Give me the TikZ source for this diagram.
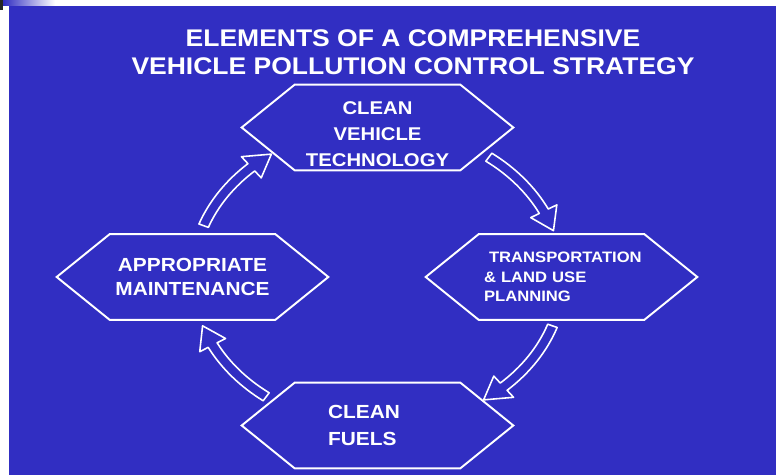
\documentclass[tikz,border=0pt]{standalone}
\usepackage{fontspec}
\setmainfont{Liberation Sans}[FakeStretch=1.1]
\definecolor{slideblue}{RGB}{49,46,194}

\begin{document}
\begin{tikzpicture}[x=0.02cm,y=0.02cm]
    \useasboundingbox (0,0) rectangle (776,475);
    \fill[white] (0,0) rectangle (776,475);
    \fill[slideblue] (9,0) rectangle (776,469);
    \shade[left color=slideblue,right color=white] (3,469) rectangle (55,475);
    \fill[black!85] (0,465) rectangle (3,475);

    \node[text=white,inner sep=0pt,anchor=north,align=center,font=\bfseries\fontsize{13.7}{16.2}\selectfont] (title) at (413,446)
      {ELEMENTS OF A COMPREHENSIVE\\VEHICLE POLLUTION CONTROL STRATEGY};

    \coordinate (hub) at (377.5,198);

    \begin{scope}[minimum width=5.42cm,minimum height=1.7cm,inner sep=0pt]
      \tikzstyle{every node}=[text=white]
      \node[align=center,font=\bfseries\fontsize{10.5}{14.8}\selectfont] (tech)  at (377.5,347.5) {CLEAN\rule{0pt}{14.4pt}\\VEHICLE\\TECHNOLOGY};
      \node[align=left,text width=3.1cm,font=\bfseries\fontsize{8.6}{11.1}\selectfont] (plan) at (561.5,198) {\mbox{\ TRANSPORTATION}\\\& LAND USE\\PLANNING};
      \node[align=left,text width=1.98cm,font=\bfseries\fontsize{10.8}{15.4}\selectfont] (fuels) at (377.5,49.5) {CLEAN\\FUELS};
      \node[align=center,font=\bfseries\fontsize{10.8}{14.2}\selectfont] (maint) at (192.5,198) {APPROPRIATE\\MAINTENANCE};
    \end{scope}

    % hexagon outlines
    \foreach \n in {tech,plan,fuels,maint}
      \draw[white,line width=1.1pt] (\n.west) -- ([xshift=1.06cm]\n.north west) -- ([xshift=-1.06cm]\n.north east)
        -- (\n.east) -- ([xshift=-1.06cm]\n.south east) -- ([xshift=1.06cm]\n.south west) -- cycle;

    % hollow arrows round the hub
    \foreach \ta/\tb/\tc in {53/26/18,-19/-47/-55,-127/-153/-161,160/133/125}
      \draw[white,line width=0.9pt,fill=slideblue,line join=round,shift={(hub)}]
        (\ta:190 and 155) arc[start angle=\ta,end angle=\tb,x radius=190,y radius=155]
        -- (\tb:199.5 and 164.5) -- (\tc:185 and 150) -- (\tb:170.5 and 135.5) -- (\tb:180 and 145)
        arc[start angle=\tb,end angle=\ta,x radius=180,y radius=145] -- cycle;
\end{tikzpicture}
\end{document}
